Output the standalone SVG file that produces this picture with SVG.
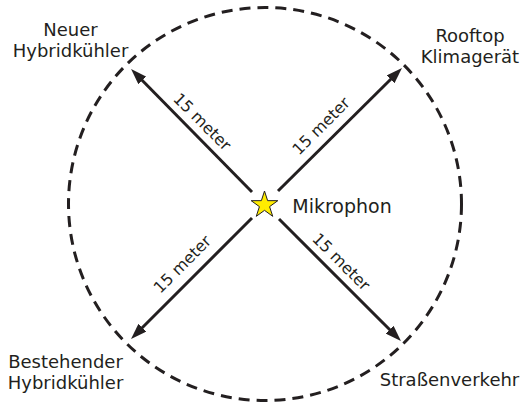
<svg xmlns="http://www.w3.org/2000/svg" width="523" height="405" viewBox="0 0 523 405">
<defs>
<style>
.lbl{font-family:"DejaVu Sans","Open Sans","Liberation Sans",sans-serif;font-size:18px;fill:#231f20;text-anchor:middle}
.dist{font-family:"DejaVu Sans","Open Sans","Liberation Sans",sans-serif;font-size:16px;fill:#231f20;text-anchor:middle}
.arrow{stroke:#231f20;stroke-width:3;fill:none;marker-end:url(#ah)}
</style>
<marker id="ah" markerUnits="userSpaceOnUse" markerWidth="16" markerHeight="11" refX="8" refY="5.5" orient="auto" viewBox="0 0 16 11">
<path d="M0,0 L16,5.5 L0,11 z" fill="#231f20"/>
</marker>
</defs>
<rect width="523" height="405" fill="#ffffff"/>
<g id="range-circle">
<circle cx="265" cy="204" r="196.5" fill="none" stroke="#231f20" stroke-width="3" stroke-dasharray="11 7"/>
</g>
<g id="connectors">
<line class="arrow" x1="252" y1="192" x2="136.7" y2="74.7"/>
<line class="arrow" x1="278" y1="191" x2="396.3" y2="73.7"/>
<line class="arrow" x1="252" y1="218" x2="136.7" y2="333.3"/>
<line class="arrow" x1="279" y1="219" x2="395.3" y2="335.3"/>
<g transform="translate(192,132) rotate(45)"><text class="dist" x="0" y="-9">15 meter</text></g>
<g transform="translate(332,137) rotate(-45)"><text class="dist" x="0" y="-10">15 meter</text></g>
<g transform="translate(194,276) rotate(-45)"><text class="dist" x="0" y="-11">15 meter</text></g>
<g transform="translate(331,272) rotate(45)"><text class="dist" x="0" y="-9">15 meter</text></g>
</g>
<g id="mikrophon">
<polygon points="264.5,191 267.64,200.67 277.82,200.67 269.59,206.65 272.73,216.33 264.5,210.35 256.27,216.33 259.41,206.65 251.18,200.67 261.36,200.67" fill="#ffec00" stroke="#231f20" stroke-width="1" stroke-linejoin="miter"/>
<text class="lbl" x="342" y="213" style="font-size:19px">Mikrophon</text>
</g>
<g id="neuer-hybridkuehler">
<text class="lbl" x="70.5" y="35.5">Neuer<tspan x="70.5" dy="21">Hybridkühler</tspan></text>
</g>
<g id="rooftop-klimageraet">
<text class="lbl" x="470" y="41.5">Rooftop<tspan x="470" dy="21">Klimagerät</tspan></text>
</g>
<g id="bestehender-hybridkuehler">
<text class="lbl" x="65.5" y="367.5">Bestehender<tspan x="65.5" dy="21">Hybridkühler</tspan></text>
</g>
<g id="strassenverkehr">
<text class="lbl" x="449.5" y="386">Straßenverkehr</text>
</g>
</svg>
